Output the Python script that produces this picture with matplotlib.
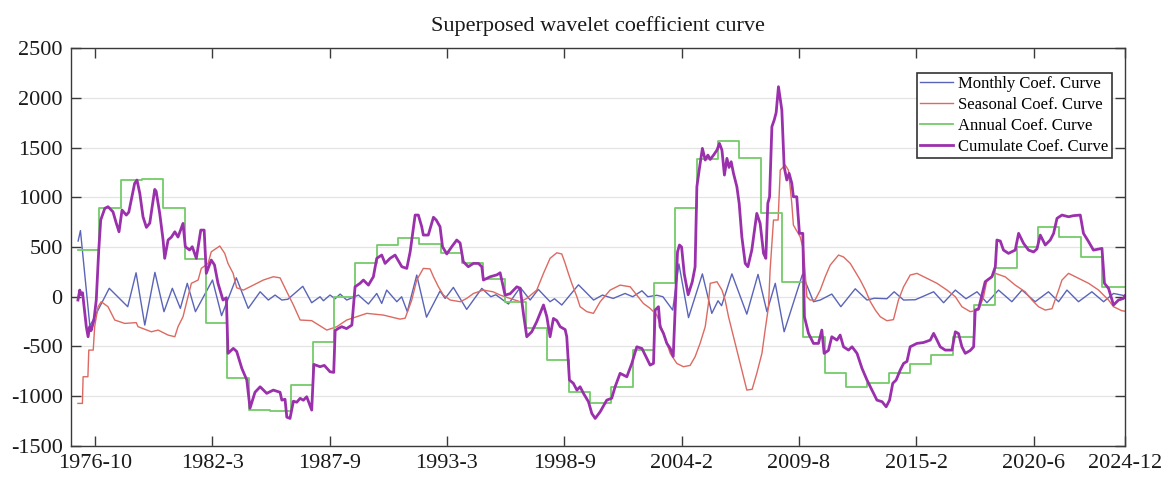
import numpy as np
import matplotlib.pyplot as plt

# x axis is a month index (0 = left edge of the plot, 593 = 2024-12)
tick_pos = [13.5, 79.5, 145.5, 211.5, 277.5, 343.5, 409.5, 475.5, 541.5, 593]
tick_labels = ['1976-10', '1982-3', '1987-9', '1993-3', '1998-9',
               '2004-2', '2009-8', '2015-2', '2020-6', '2024-12']

# Monthly coefficient curve (read at its turning points)
monthly_t = [4.0, 5.3, 10.6, 21.5, 31.9, 36.6, 41.5, 47.2, 52.3, 57.0, 61.5, 65.4, 70.0,
             79.6, 84.7, 93.0, 99.7, 106.4, 111.0, 114.8, 118.6, 122.0, 130.4, 135.4,
             140.1, 142.0, 145.7, 148.6, 151.4, 155.1, 161.7, 167.3, 172.0, 174.8, 177.6,
             183.3, 186.0, 189.2, 194.5, 200.0, 207.6, 210.5, 215.1, 222.6, 231.1, 236.2,
             239.0, 246.1, 252.7, 258.3, 262.9, 269.5, 272.0, 276.1, 285.5, 294.0, 299.0,
             305.0, 311.7, 316.0, 321.2, 324.5, 329.6, 333.0, 338.5, 342.0, 347.4, 355.2,
             360.5, 364.0, 366.0, 371.8, 380.2, 386.5, 391.5, 396.2, 401.2, 411.5, 417.7,
             421.5, 428.0, 433.1, 441.2, 447.8, 452.0, 459.0, 463.1, 468.4, 475.0, 485.3,
             490.9, 497.5, 503.5, 509.7, 515.3, 521.8, 529.3, 535.0, 542.4, 549.9, 555.6,
             560.3, 566.8, 574.3, 580.9, 586.5, 593.0]
monthly_v = [560, 665, -295, 85, -100, 241, -285, 245, -150, 85, -117, 135, -150,
             168, -190, 190, -117, 50, -33, 17, -33, -25, 105, -60,
             0, -40, 17, -20, 27, -33, 17, -73, 33, -67, 67,
             -50, 0, -150, 218, -205, 57, -17, 94, -127, 84, 0,
             20, -73, 94, -33, 74, -50, -20, -83, 120, -33, 17,
             -17, 33, 0, 60, 0, 15, 0, -134, 330, -210, 230,
             -167, -40, -90, 230, -175, 225, -150, 135, -352, 225, -50,
             -33, 27, -100, 80, -33, -15, -20, 50, -33, -30, 50,
             -60, 67, -20, 50, -60, 67, -50, 67, -50, 50, -50,
             67, -50, 50, -50, 33, 10]

# Seasonal coefficient curve
seasonal_t = [3.9, 6.4, 6.8, 9.5, 10.0, 12.5, 13.3, 15.2, 17.0, 20.8, 24.6, 30.2, 36.7,
              37.7, 45.2, 49.0, 54.6, 58.4, 60.2, 63.0, 65.8, 67.7, 71.5, 73.3, 77.1,
              78.9, 83.7, 86.5, 88.3, 91.2, 93.2, 97.0, 102.6, 108.2, 113.8, 117.6,
              121.4, 125.1, 128.9, 135.4, 143.9, 149.5, 155.1, 166.4, 175.7, 185.1,
              188.0, 191.7, 194.5, 198.2, 202.0, 203.9, 206.7, 209.5, 213.3, 219.0,
              222.6, 226.4, 232.0, 237.4, 241.4, 247.0, 252.7, 256.4, 262.0, 265.8,
              269.5, 273.3, 276.1, 278.0, 279.8, 281.7, 284.6, 286.4, 290.2, 293.9,
              297.7, 303.3, 308.9, 314.6, 318.3, 322.0, 325.8, 329.6, 333.3, 337.1,
              340.8, 344.5, 348.3, 351.1, 353.9, 356.8, 358.6, 359.6, 363.4, 366.2,
              368.0, 369.9, 372.7, 375.5, 378.3, 380.2, 383.2, 385.8, 388.7, 390.5,
              392.4, 393.3, 395.2, 397.8, 399.0, 401.8, 403.6, 405.5, 406.4, 410.2,
              412.1, 414.0, 415.8, 418.6, 421.5, 424.3, 427.1, 431.8, 434.6, 438.4,
              441.2, 444.0, 446.9, 449.7, 452.5, 455.3, 459.0, 462.7, 465.5, 468.4,
              472.1, 475.9, 481.5, 487.2, 492.8, 497.5, 501.2, 505.9, 510.6, 513.4,
              515.3, 520.0, 525.6, 531.2, 536.8, 540.6, 544.3, 548.1, 551.9, 555.6,
              557.5, 561.2, 566.8, 572.5, 578.1, 583.7, 586.5, 591.2, 593.0]
seasonal_v = [-1072, -1072, -804, -804, -536, -536, -301, -100, -50, -100, -234, -268, -260,
              -301, -352, -335, -385, -402, -301, -201, 0, 135, 168, 285, 335,
              452, 510, 435, 335, 235, 90, 67, 117, 168, 201, 190,
              50, -83, -234, -240, -335, -301, -234, -167, -184, -225,
              -215, -33, 168, 285, 280, 201, 100, 17, -33, -50,
              -17, 33, 67, 50, 17, -17, -50, -17, 67, 235,
              386, 442, 430, 335, 235, 135, 0, -100, -150, -167,
              -50, 67, 117, 100, 17, -67, -117, -184, -368, -569,
              -670, -703, -690, -603, -469, -301, -67, 135, 151, 67,
              -33, -201, -402, -603, -804, -938, -930, -770, -569, -335,
              -100, 268, 771, 771, 1273, 1323, 1273, 938, 720, 603,
              469, 0, -33, -33, 67, 201, 318, 419, 400, 335,
              251, 168, 67, -50, -134, -201, -241, -230, -33, 100,
              218, 235, 185, 135, 67, 0, -100, -150, -134, 0,
              168, 235, 200, 117, 50, -33, -100, -134, -120, 67,
              168, 235, 185, 135, 67, -33, -100, -141, -145]

# Annual coefficient curve: one value per year, starting at month 4
annual_start = 4
annual_end = 593
annual_v = [470, 890, 1175, 1185, 895, 380, -260, -820, -1135, -1150, -885, -450, 0,
            335, 525, 587, 535, 436, 336, 175, -50, -318, -636, -960, -1065, -905,
            -536, 135, 893, 1381, 1565, 1398, 838, 151, -402, -764, -905, -870, -770,
            -676, -586, -402, -83, 291, 503, 704, 603, 396, 94]

# Cumulate coefficient curve
cumulate_t = [3.9, 4.9, 5.8, 6.5, 8.6, 9.6, 10.5, 11.3, 12.9, 14.2, 15.6, 16.7, 19.0,
              20.8, 23.6, 25.5, 27.0, 28.7, 31.1, 32.5, 35.8, 37.1, 38.7, 40.5, 42.4,
              44.3, 47.1, 47.9, 49.9, 51.8, 52.7, 54.6, 56.5, 58.4, 60.2, 63.0, 64.3,
              66.7, 68.2, 70.5, 73.0, 74.9, 76.1, 78.9, 80.7, 82.7, 85.5, 87.4, 88.3,
              91.3, 93.2, 96.1, 98.9, 100.7, 103.5, 106.4, 110.1, 113.8, 117.6, 118.6,
              120.4, 121.4, 123.2, 125.1, 127.0, 128.9, 130.7, 132.6, 135.4, 136.6,
              140.1, 142.5, 145.7, 147.8, 148.6, 150.4, 152.3, 155.0, 158.0, 159.8,
              162.6, 164.5, 167.3, 170.1, 172.0, 174.8, 176.7, 179.5, 182.3, 186.1,
              188.9, 190.8, 193.6, 195.4, 197.3, 198.2, 201.0, 203.9, 205.5, 207.6,
              209.0, 211.4, 214.2, 217.0, 218.9, 220.7, 223.5, 226.4, 229.2, 231.1,
              232.0, 235.8, 239.6, 241.4, 244.2, 247.0, 250.8, 252.7, 254.5, 256.4,
              259.2, 262.0, 263.9, 265.8, 267.7, 269.5, 271.4, 273.3, 275.2, 278.0,
              278.9, 280.4, 282.6, 284.6, 286.4, 288.3, 291.1, 293.0, 294.9, 297.7,
              301.4, 304.2, 306.1, 308.9, 312.7, 315.5, 318.3, 321.2, 323.0, 325.8,
              327.7, 328.6, 330.5, 331.4, 333.3, 335.2, 337.1, 338.8, 341.2, 342.3,
              343.5, 345.0, 347.2, 349.5, 351.1, 352.1, 353.4, 355.2, 356.8, 358.3,
              359.6, 361.5, 363.4, 364.8, 366.2, 367.6, 369.0, 370.2, 371.4, 372.7,
              374.6, 375.9, 377.4, 379.3, 380.8, 383.0, 385.8, 387.7, 389.6, 390.9,
              392.0, 393.0, 394.3, 395.6, 396.7, 398.0, 399.9, 401.2, 402.7, 404.0,
              405.5, 406.4, 408.3, 409.8, 411.7, 412.6, 414.9, 417.7, 420.5, 422.4,
              423.7, 426.1, 428.0, 430.9, 432.7, 434.6, 437.4, 439.4, 442.2, 445.0,
              447.8, 450.6, 453.4, 456.3, 458.6, 460.5, 462.3, 464.2, 466.5, 468.4,
              470.3, 472.1, 475.9, 479.6, 483.4, 485.3, 487.2, 489.0, 491.8, 495.6,
              497.5, 499.3, 501.2, 503.1, 505.9, 507.8, 508.7, 510.6, 514.3, 518.1,
              520.0, 520.9, 522.8, 524.6, 527.4, 531.2, 533.1, 535.9, 538.7, 541.5,
              543.4, 545.3, 548.1, 550.9, 552.8, 554.7, 557.5, 561.2, 564.0, 567.8,
              569.6, 572.5, 575.2, 580.0, 581.4, 583.7, 586.5, 589.3, 592.1, 593.0]
cumulate_v = [-33, 67, 20, 40, -301, -402, -300, -340, -234, -33, 469, 771, 888,
              905, 854, 737, 653, 871, 821, 850, 1140, 1173, 1039, 804, 697,
              740, 1079, 1060, 838, 570, 386, 570, 600, 653, 600, 737, 503,
              470, 503, 386, 670, 670, 235, 369, 320, 135, -33, -10, -569,
              -519, -550, -720, -837, -1120, -960, -905, -971, -938, -960, -1039,
              -1030, -1210, -1223, -1050, -1060, -1021, -1040, -1005, -1139, -680,
              -703, -690, -754, -760, -340, -318, -301, -320, -285, 100,
              135, 168, 117, 201, 386, 419, 335, 386, 419, 302,
              285, 452, 821, 821, 704, 620, 620, 799, 770, 704,
              503, 430, 503, 570, 540, 352, 302, 335, 335, 302,
              168, 201, 220, 241, 17, 30, 100, 85, -167, -402,
              -352, -251, -167, -83, -201, -402, -218, -240, -301, -330,
              -402, -837, -870, -938, -905, -971, -1055, -1173, -1223, -1156,
              -1039, -1020, -905, -770, -804, -670, -503, -520, -586, -687,
              -670, -134, -100, -301, -368, -469, -519, -600, 450, 520,
              500, 230, 20, 150, 300, 1106, 1273, 1491, 1374, 1424,
              1380, 1424, 1474, 1541, 1474, 1223, 1391, 1300, 1357, 1240,
              1106, 938, 603, 335, 302, 469, 838, 737, 436, 386,
              938, 1005, 1709, 1776, 1850, 2111, 1876, 1307, 1173, 1240,
              1140, 1005, 1005, 637, 637, -201, -368, -469, -469, -335,
              -569, -540, -402, -436, -385, -503, -536, -503, -569, -720,
              -837, -938, -1039, -1055, -1106, -1039, -870, -837, -737, -670,
              -650, -503, -469, -460, -436, -368, -436, -503, -536, -536,
              -352, -370, -503, -569, -540, -503, -134, -120, 151, 201,
              302, 570, 560, 469, 436, 469, 637, 536, 469, 450,
              480, 620, 520, 570, 637, 788, 821, 804, 815, 821,
              637, 553, 469, 486, 135, 84, -83, -33, -17, 10]

plt.rcParams['font.family'] = 'Liberation Serif'
plt.rcParams['axes.unicode_minus'] = False

fig = plt.figure(figsize=(11.7, 4.82), dpi=100)
ax = fig.add_axes([0.0607, 0.0747, 0.9009, 0.8257])

annual_x = annual_start + 12 * np.arange(len(annual_v))
annual_x = np.append(annual_x, annual_end)
annual_y = np.append(annual_v, annual_v[-1])

ax.plot(monthly_t, monthly_v, color='#5a64b8', lw=1.0, label='Monthly Coef. Curve')
ax.plot(seasonal_t, seasonal_v, color='#dc6a62', lw=1.0, label='Seasonal Coef. Curve')
ax.step(annual_x, annual_y, where='post', color='#74cc6a', lw=1.3, label='Annual Coef. Curve')
ax.plot(cumulate_t, cumulate_v, color='#9a30ab', lw=2.0, label='Cumulate Coef. Curve')

ax.set_xlim(0, 593)
ax.set_ylim(-1500, 2500)
ax.set_xticks(tick_pos)
ax.set_xticklabels(tick_labels)
ax.set_yticks(np.arange(-1500, 2501, 500))

ax.yaxis.grid(True, color='#e4e4e4', lw=0.9)
ax.set_axisbelow(True)
ax.tick_params(direction='in', top=True, right=True, length=7, width=1,
               color='#3a3a3a', labelsize=16, labelcolor='#1a1a1a')
ax.tick_params(axis='x', pad=6)
ax.tick_params(axis='y', pad=6)
for s in ax.spines.values():
    s.set_color('#3a3a3a')
    s.set_linewidth(1.0)

ax.set_title('Superposed wavelet coefficient curve', fontsize=16, pad=12, color='#1a1a1a')

leg = ax.legend(loc='upper right', bbox_to_anchor=(0.9874, 0.938), fontsize=12,
                fancybox=False, edgecolor='#333333', framealpha=1, borderaxespad=0,
                handlelength=2.0, labelspacing=0.3, borderpad=0.2, handletextpad=0.3)
leg.get_frame().set_linewidth(1.2)

plt.savefig('out.png', dpi=100)
